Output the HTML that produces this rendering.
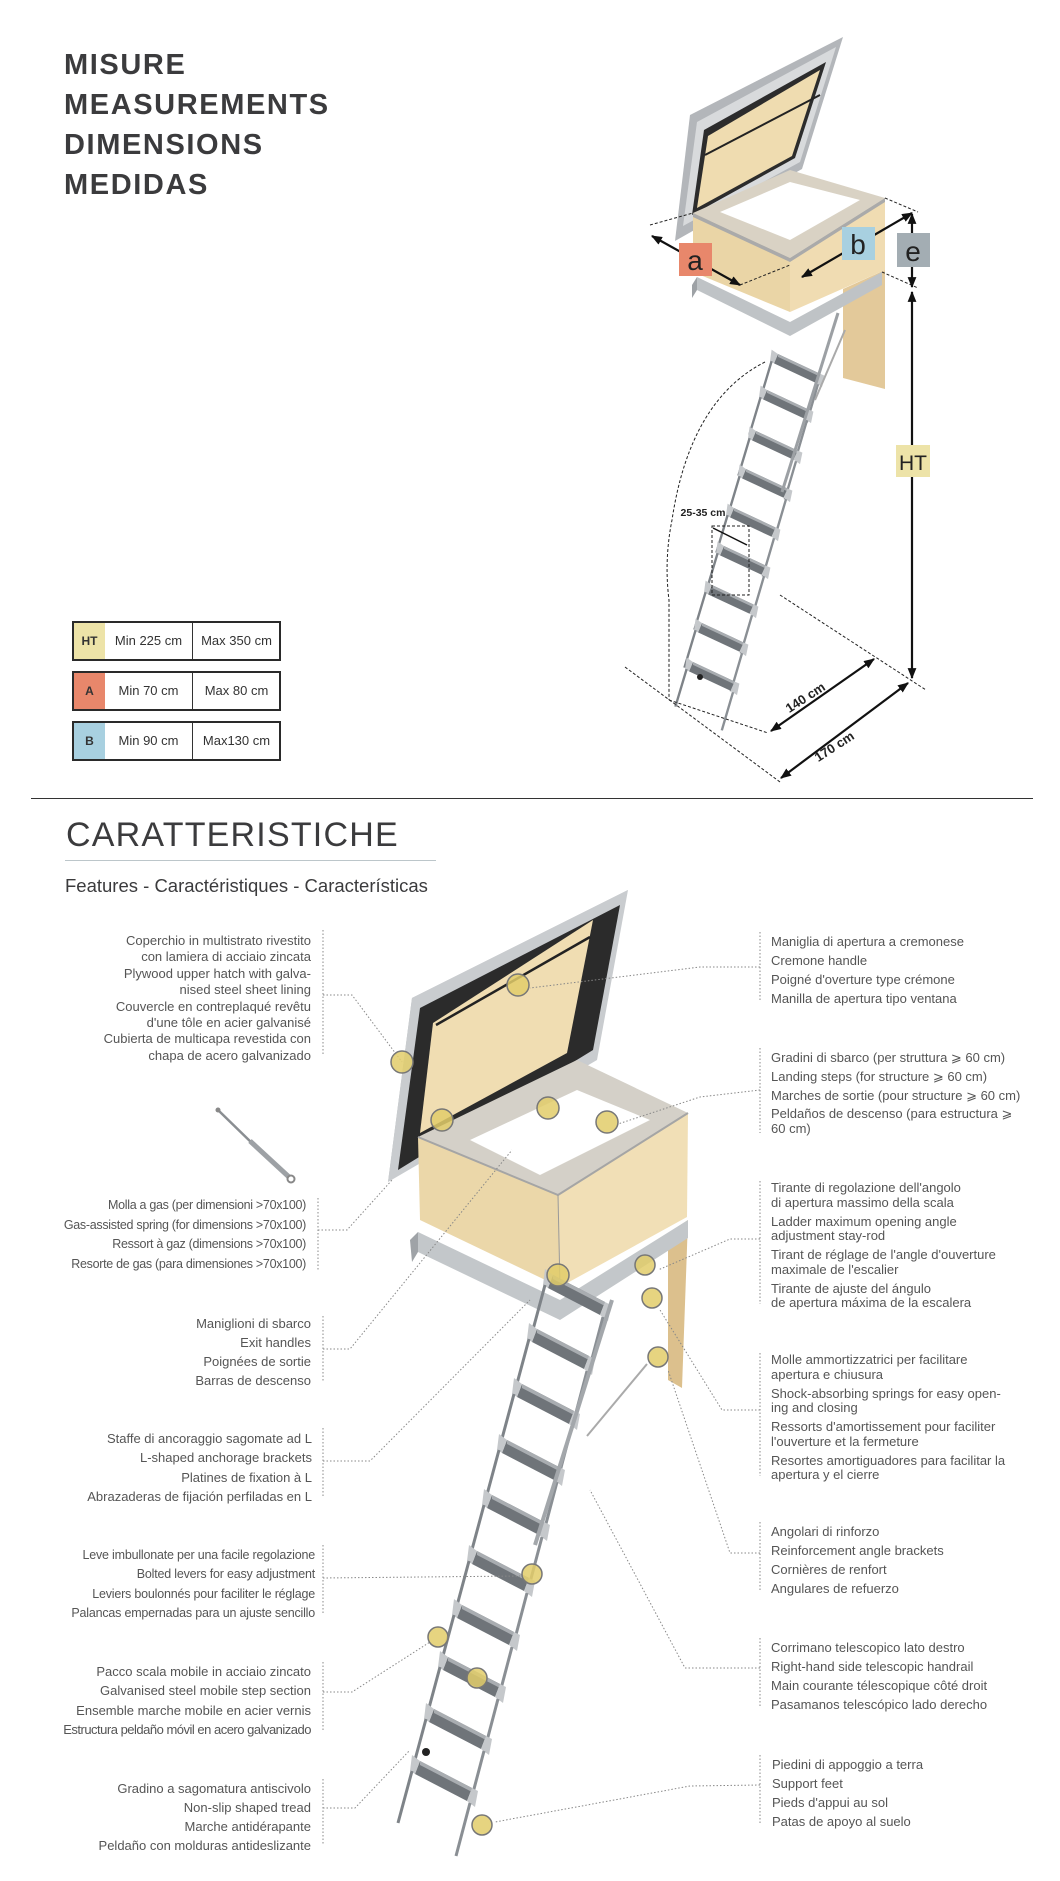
<!DOCTYPE html>
<html><head><meta charset="utf-8">
<style>
html,body{margin:0;padding:0;background:#fff;}
body{width:1060px;height:1881px;position:relative;overflow:hidden;font-family:"Liberation Sans",sans-serif;color:#4a4a4c;}
.h{position:absolute;left:64px;font-weight:bold;font-size:29px;letter-spacing:1.6px;color:#3b3b3d;line-height:40px;}
.t{position:absolute;font-size:13px;color:#555;}
.t p{margin:0;}
.l{text-align:right;}
.tab{position:absolute;left:72px;width:205px;height:36px;border:2px solid #2a2a2a;font-size:13px;color:#333;}
.tab div{position:absolute;top:0;height:36px;line-height:36px;text-align:center;}
</style></head><body>

<div class="h" style="top:45px">MISURE<br>MEASUREMENTS<br>DIMENSIONS<br>MEDIDAS</div>

<div class="tab" style="top:621px"><div style="left:0;width:31px;background:#ede3a8;font-weight:bold;font-size:12px">HT</div><div style="left:31px;width:87px">Min 225 cm</div><div style="left:118px;width:87px;border-left:1.5px solid #333">Max 350 cm</div></div>
<div class="tab" style="top:671px"><div style="left:0;width:31px;background:#e8876b;font-weight:bold;font-size:12px">A</div><div style="left:31px;width:87px">Min 70 cm</div><div style="left:118px;width:87px;border-left:1.5px solid #333">Max 80 cm</div></div>
<div class="tab" style="top:721px"><div style="left:0;width:31px;background:#a8d0e0;font-weight:bold;font-size:12px">B</div><div style="left:31px;width:87px">Min 90 cm</div><div style="left:118px;width:87px;border-left:1.5px solid #333">Max130 cm</div></div>

<div style="position:absolute;left:31px;top:798px;width:1002px;height:1px;background:#333"></div>

<div style="position:absolute;left:66px;top:815px;font-size:34px;letter-spacing:1.2px;color:#3b3b3d;line-height:40px">CARATTERISTICHE</div>
<div style="position:absolute;left:65px;top:860px;width:371px;height:1px;background:#bcc6ca"></div>
<div style="position:absolute;left:65px;top:875px;font-size:18.5px;color:#3b3b3d">Features - Caractéristiques - Características</div>

<!-- left text blocks -->
<div class="t l" style="right:749px;top:933px;line-height:16.4px"><p>Coperchio in multistrato rivestito</p><p>con lamiera di acciaio zincata</p><p>Plywood upper hatch with galva-</p><p>nised steel sheet lining</p><p>Couvercle en contreplaqué revêtu</p><p>d'une tôle en acier galvanisé</p><p>Cubierta de multicapa revestida con</p><p>chapa de acero galvanizado</p></div>
<div class="t l" style="right:754px;top:1196px;line-height:19.5px;font-size:12.5px;letter-spacing:-0.3px"><p>Molla a gas (per dimensioni &gt;70x100)</p><p>Gas-assisted spring (for dimensions &gt;70x100)</p><p>Ressort à gaz (dimensions &gt;70x100)</p><p>Resorte de gas (para dimensiones &gt;70x100)</p></div>
<div class="t l" style="right:749px;top:1314px;line-height:19px"><p>Maniglioni di sbarco</p><p>Exit handles</p><p>Poignées de sortie</p><p>Barras de descenso</p></div>
<div class="t l" style="right:748px;top:1429px;line-height:19.3px"><p>Staffe di ancoraggio sagomate ad L</p><p>L-shaped anchorage brackets</p><p>Platines de fixation à L</p><p>Abrazaderas de fijación perfiladas en L</p></div>
<div class="t l" style="right:745px;top:1546px;line-height:19.3px;font-size:12.5px;letter-spacing:-0.2px"><p>Leve imbullonate per una facile regolazione</p><p>Bolted levers for easy adjustment</p><p>Leviers boulonnés pour faciliter le réglage</p><p>Palancas empernadas para un ajuste sencillo</p></div>
<div class="t l" style="right:749px;top:1662px;line-height:19.3px"><p>Pacco scala mobile in acciaio zincato</p><p>Galvanised steel mobile step section</p><p>Ensemble marche mobile en acier vernis</p><p style="letter-spacing:-0.5px">Estructura peldaño móvil en acero galvanizado</p></div>
<div class="t l" style="right:749px;top:1779px;line-height:19px"><p>Gradino a sagomatura antiscivolo</p><p>Non-slip shaped tread</p><p>Marche antidérapante</p><p>Peldaño con molduras antideslizante</p></div>

<!-- right text blocks -->
<div class="t" style="left:771px;top:932px;line-height:19px"><p>Maniglia di apertura a cremonese</p><p>Cremone handle</p><p>Poigné d'overture type crémone</p><p>Manilla de apertura tipo ventana</p></div>
<div class="t" style="left:771px;top:1048px;line-height:19px"><p>Gradini di sbarco (per struttura ⩾ 60 cm)</p><p>Landing steps (for structure ⩾ 60 cm)</p><p>Marches de sortie (pour structure ⩾ 60 cm)</p><p style="line-height:14.5px;margin-top:2px">Peldaños de descenso (para estructura ⩾<br>60 cm)</p></div>
<div class="t" style="left:771px;top:1181px;line-height:14.5px"><p style="margin-bottom:4.5px">Tirante di regolazione dell'angolo<br>di apertura massimo della scala</p><p style="margin-bottom:4.5px">Ladder maximum opening angle<br>adjustment stay-rod</p><p style="margin-bottom:4.5px">Tirant de réglage de l'angle d'ouverture<br>maximale de l'escalier</p><p>Tirante de ajuste del ángulo<br>de apertura máxima de la escalera</p></div>
<div class="t" style="left:771px;top:1353px;line-height:14.5px"><p style="margin-bottom:4.5px">Molle ammortizzatrici per facilitare<br>apertura e chiusura</p><p style="margin-bottom:4.5px">Shock-absorbing springs for easy open-<br>ing and closing</p><p style="margin-bottom:4.5px">Ressorts d'amortissement pour faciliter<br>l'ouverture et la fermeture</p><p>Resortes amortiguadores para facilitar la<br>apertura y el cierre</p></div>
<div class="t" style="left:771px;top:1522px;line-height:19px"><p>Angolari di rinforzo</p><p>Reinforcement angle brackets</p><p>Cornières de renfort</p><p>Angulares de refuerzo</p></div>
<div class="t" style="left:771px;top:1638px;line-height:19px"><p>Corrimano telescopico lato destro</p><p>Right-hand side telescopic handrail</p><p>Main courante télescopique côté droit</p><p>Pasamanos telescópico lado derecho</p></div>
<div class="t" style="left:772px;top:1755px;line-height:19px"><p>Piedini di appoggio a terra</p><p>Support feet</p><p>Pieds d'appui au sol</p><p>Patas de apoyo al suelo</p></div>

<svg width="1060" height="1881" style="position:absolute;left:0;top:0" xmlns="http://www.w3.org/2000/svg">
<defs>
<marker id="ar" viewBox="0 0 10 10" refX="9" refY="5" markerWidth="5" markerHeight="5" orient="auto-start-reverse"><path d="M0,1 L10,5 L0,9 z" fill="#111"/></marker>
<g id="tr">
 <polygon points="0,0 52,27 47,40 -5,13" fill="#6f7479"/>
 <polygon points="0,0 52,27 52,31 0,4" fill="#a9adb1"/>
 <polygon points="47,40 52,27 58,30 55,46" fill="#c5c8cb"/>
 <polygon points="-5,13 0,0 -8,-6 -10,10" fill="#c5c8cb"/>
 <line x1="-8" y1="10" x2="-22" y2="62" stroke="#7e8388" stroke-width="3"/>
 <line x1="50" y1="42" x2="36" y2="95" stroke="#8a8f94" stroke-width="3"/>
</g>
</defs>

<!-- ===== TOP ILLUSTRATION ===== -->
<polygon points="690,115 843,37 802,169 675,241" fill="#b3b6ba"/>
<polygon points="697,122 836,47 800,162 683,226" fill="#d8dadc"/>
<polygon points="704,130 826,62 795,158 692,215" fill="#2c2c2c"/>
<polygon points="708,136 820,70 792,156 697,208" fill="#efdcb0"/>
<path d="M705,155 L820,95" stroke="#222" stroke-width="2"/>
<polygon points="843,289 885,270 885,389 843,378" fill="#e3c99a"/>
<polygon points="693,213 790,170 885,198 790,258" fill="#d9d2c4"/>
<polygon points="720,212 790,182 860,200 790,240" fill="#fff"/>
<polygon points="693,213 790,258 790,312 693,272" fill="#ead5a6"/>
<polygon points="790,258 885,198 885,270 790,312" fill="#f0dcb2"/>
<polygon points="693,213 790,258 885,198 885,202 790,262 693,217" fill="#aaa"/>
<polygon points="697,277 790,322 882,272 882,285 790,336 697,290" fill="#bfc3c6"/>
<polygon points="692,285 697,277 697,290 692,298" fill="#9ea2a6"/>
<g transform="translate(778,354) scale(0.8 0.72)"><use href="#tr"/></g>
<g transform="translate(767,390) scale(0.8 0.72)"><use href="#tr"/></g>
<g transform="translate(756,431) scale(0.8 0.72)"><use href="#tr"/></g>
<g transform="translate(746,469) scale(0.8 0.72)"><use href="#tr"/></g>
<g transform="translate(734,508) scale(0.8 0.72)"><use href="#tr"/></g>
<g transform="translate(724,546) scale(0.8 0.72)"><use href="#tr"/></g>
<g transform="translate(712,585) scale(0.8 0.72)"><use href="#tr"/></g>
<g transform="translate(702,623) scale(0.8 0.72)"><use href="#tr"/></g>
<g transform="translate(693,662) scale(0.8 0.72)"><use href="#tr"/></g>
<line x1="838" y1="313" x2="782" y2="492" stroke="#9ca0a4" stroke-width="3"/>
<line x1="845" y1="330" x2="815" y2="400" stroke="#aaa" stroke-width="2"/>
<circle cx="700" cy="677" r="3" fill="#222"/>
<g stroke="#222" stroke-dasharray="3,2" stroke-width="1" fill="none">
<line x1="650" y1="225" x2="693" y2="213"/>
<line x1="740" y1="285" x2="790" y2="265"/>
<line x1="885" y1="198" x2="918" y2="212"/>
<line x1="882" y1="272" x2="918" y2="288"/>
<path d="M765,362 Q690,400 672,520 Q664,560 669,600 L669,700"/>
<line x1="625" y1="667" x2="780" y2="782"/>
<line x1="780" y1="595" x2="926" y2="690"/>
<line x1="669" y1="700" x2="768" y2="733"/>
<rect x="712" y="526" width="37" height="69"/>
</g>
<g stroke="#111" stroke-width="2.2">
<line x1="652" y1="236" x2="740" y2="285" marker-start="url(#ar)" marker-end="url(#ar)"/>
<line x1="802" y1="277" x2="912" y2="213" marker-start="url(#ar)" marker-end="url(#ar)"/>
<line x1="912" y1="214" x2="912" y2="287" marker-start="url(#ar)" marker-end="url(#ar)"/>
<line x1="912" y1="292" x2="912" y2="678" marker-start="url(#ar)" marker-end="url(#ar)"/>
<line x1="771" y1="731" x2="874" y2="659" marker-start="url(#ar)" marker-end="url(#ar)"/>
<line x1="781" y1="778" x2="908" y2="683" marker-start="url(#ar)" marker-end="url(#ar)"/>
</g>
<line x1="713" y1="528" x2="747" y2="545" stroke="#111" stroke-width="1.5"/>
<rect x="679" y="243" width="33" height="33" fill="#e8876b"/>
<rect x="842" y="227" width="33" height="33" fill="#a8d0e0"/>
<rect x="897" y="233" width="33" height="34" fill="#a3adb3"/>
<rect x="896" y="445" width="34" height="32" fill="#ede3a8"/>
<g font-family="Liberation Sans,sans-serif" fill="#222" text-anchor="middle">
<text x="695" y="270" font-size="28">a</text>
<text x="858" y="254" font-size="28">b</text>
<text x="913" y="261" font-size="28">e</text>
<text x="913" y="470" font-size="21">HT</text>
<text x="703" y="516" font-size="10.5" font-weight="bold">25-35 cm</text>
<text x="805" y="702" font-size="13" font-weight="bold" transform="rotate(-33 805 697)">140 cm</text>
<text x="834" y="751" font-size="13" font-weight="bold" transform="rotate(-33 834 746)">170 cm</text>
</g>

<!-- ===== LOWER ILLUSTRATION ===== -->
<polygon points="628,890 388,1182 412,998" fill="#b8bbbe"/>
<polygon points="412,998 628,890 597,1060 388,1182" fill="#c9cccf"/>
<polygon points="420,1008 620,905 593,1050 398,1170" fill="#2b2b2b"/>
<polygon points="433,1023 593,920 567,1053 420,1133" fill="#f0ddb2"/>
<path d="M436,1025 L590,937" stroke="#222" stroke-width="2.5"/>
<polygon points="668,1233 688,1220 682,1388 668,1380" fill="#dcc08d"/>
<polygon points="418,1137 577,1060 688,1113 558,1195" fill="#d4d0c8"/>
<polygon points="470,1140 577,1090 650,1120 540,1175" fill="#fff"/>
<polygon points="418,1137 558,1195 560,1287 420,1220" fill="#ebd7a9"/>
<polygon points="558,1195 688,1113 687,1217 560,1287" fill="#f1dfb6"/>
<polyline points="418,1137 558,1195 688,1113" stroke="#a5a5a5" stroke-width="2" fill="none"/>
<line x1="558" y1="1195" x2="560" y2="1287" stroke="#999"/>
<polygon points="418,1232 560,1300 688,1220 688,1238 560,1320 418,1252" fill="#c3c7ca"/>
<polygon points="410,1240 418,1232 418,1252 412,1262" fill="#9fa3a7"/>
<use href="#tr" transform="translate(553,1275)"/>
<use href="#tr" transform="translate(537,1329)"/>
<use href="#tr" transform="translate(522,1384)"/>
<use href="#tr" transform="translate(507,1440)"/>
<use href="#tr" transform="translate(492,1495)"/>
<use href="#tr" transform="translate(477,1551)"/>
<use href="#tr" transform="translate(462,1605)"/>
<use href="#tr" transform="translate(448,1657)"/>
<use href="#tr" transform="translate(434,1709)"/>
<use href="#tr" transform="translate(420,1761)"/>
<line x1="612" y1="1300" x2="535" y2="1545" stroke="#a3a7ab" stroke-width="4"/>
<line x1="647" y1="1364" x2="587" y2="1436" stroke="#aaa" stroke-width="2"/>
<circle cx="426" cy="1752" r="4" fill="#222"/>
<g stroke="#888" stroke-width="1" stroke-dasharray="1.5,2" fill="none">
<line x1="323" y1="930" x2="323" y2="1056"/>
<polyline points="323,995 352,995 402,1062"/>
<line x1="318" y1="1198" x2="318" y2="1270"/>
<polyline points="318,1230 347,1230 392,1180"/>
<line x1="323" y1="1316" x2="323" y2="1382"/>
<polyline points="323,1349 350,1349 512,1150"/>
<line x1="323" y1="1428" x2="323" y2="1497"/>
<polyline points="323,1461 370,1461 530,1300"/>
<line x1="323" y1="1545" x2="323" y2="1614"/>
<polyline points="323,1578 520,1576"/>
<line x1="323" y1="1662" x2="323" y2="1730"/>
<polyline points="323,1692 352,1692 430,1642"/>
<line x1="323" y1="1779" x2="323" y2="1845"/>
<polyline points="323,1808 355,1808 410,1750"/>
<line x1="760" y1="932" x2="760" y2="1000"/>
<polyline points="760,967 700,967 530,988"/>
<line x1="760" y1="1048" x2="760" y2="1133"/>
<polyline points="760,1090 700,1097 618,1124"/>
<line x1="760" y1="1181" x2="760" y2="1304"/>
<polyline points="760,1239 730,1239 658,1270"/>
<line x1="760" y1="1353" x2="760" y2="1476"/>
<polyline points="760,1410 722,1410 660,1310"/>
<line x1="760" y1="1522" x2="760" y2="1592"/>
<polyline points="760,1553 730,1553 668,1370"/>
<line x1="760" y1="1638" x2="760" y2="1708"/>
<polyline points="760,1668 685,1668 590,1490"/>
<line x1="760" y1="1755" x2="760" y2="1825"/>
<polyline points="760,1785 690,1786 495,1822"/>
</g>
<g fill="#e2cc6a" fill-opacity="0.85" stroke="#777" stroke-width="1.5">
<circle cx="402" cy="1062" r="11"/><circle cx="518" cy="985" r="11"/>
<circle cx="442" cy="1120" r="11"/><circle cx="548" cy="1108" r="11"/>
<circle cx="607" cy="1122" r="11"/><circle cx="558" cy="1275" r="11"/>
<circle cx="645" cy="1265" r="10"/><circle cx="652" cy="1298" r="10"/>
<circle cx="658" cy="1357" r="10"/><circle cx="532" cy="1574" r="10"/>
<circle cx="438" cy="1637" r="10"/><circle cx="477" cy="1678" r="10"/>
<circle cx="482" cy="1825" r="10"/>
</g>
<line x1="218" y1="1110" x2="255" y2="1146" stroke="#8a8e92" stroke-width="2.5"/>
<line x1="250" y1="1141" x2="289" y2="1177" stroke="#9da1a5" stroke-width="5"/>
<circle cx="218" cy="1110" r="2.5" fill="#888"/>
<circle cx="291" cy="1179" r="3.5" fill="none" stroke="#888" stroke-width="2"/>
</svg>
</body></html>
